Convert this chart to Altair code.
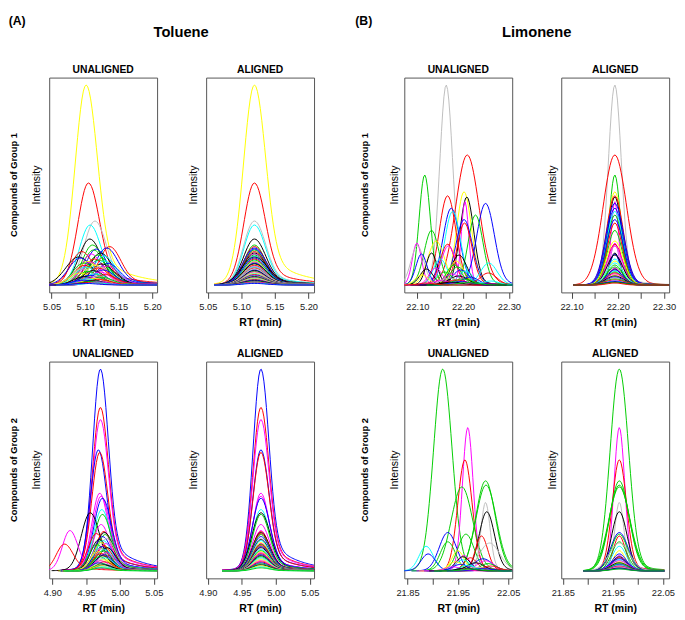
import json
import numpy as np
import pandas as pd
import altair as alt

alt.data_transformers.disable_max_rows()

# R default palette codes
PALETTE = {"k": "#000000", "r": "#FF0000", "g": "#00CD00", "b": "#0000FF",
           "c": "#00FFFF", "m": "#FF00FF", "y": "#FFFF00", "e": "#BEBEBE"}

# ---------------- Toluene, compounds of group 1 (peak apex height, RT, width, colour)
tol1_height = [100, 51, 32, 30, 23, 20, 19.2, 18.5, 18, 17.5, 16.7, 16, 15.5, 15, 14.5, 14, 13.5, 13,
               12.5, 12, 11.8, 11.5, 11, 10.8, 10.5, 10, 9.8, 9.5, 9.2, 9, 8.5, 8, 7.5, 7.2, 6.8, 6.5,
               6, 5.6, 5.2, 4.8, 4.5, 4.2, 3.9, 3.6, 3.3, 3.0, 2.7, 2.4, 2.1, 1.8, 1.5, 1.2, 1.0, 0.8]
tol1_rt = [5.1015, 5.1050, 5.1146, 5.1073, 5.1070, 5.1110, 5.1365, 5.1320, 5.1165, 5.1125, 5.0950,
           5.1230, 5.1090, 5.1190, 5.1280, 5.0903, 5.0927, 5.1140, 5.1200, 5.1290, 5.1040, 5.1080,
           5.0980, 5.1340, 5.1250, 5.1150, 5.0990, 5.1330, 5.1210, 5.1010, 5.1190, 5.0960, 5.1270,
           5.1120, 5.1040, 5.1220, 5.0930, 5.1160, 5.1300, 5.1060, 5.1180, 5.0990, 5.1240, 5.1100,
           5.1140, 5.1030, 5.1210, 5.0970, 5.1130, 5.1080, 5.1200, 5.1050, 5.1170, 5.1000]
tol1_sigma = [.0160, .0155, .0160, .0155, .0160, .0150, .0160, .0165, .0150, .0155, .0160, .0160,
              .0150, .0155, .0160, .0190, .0170, .0155, .0160, .0160, .0155, .0150, .0160, .0165,
              .0170, .0160, .0160, .0160, .0160, .0160, .0160, .0170, .0160, .0160, .0160, .0160,
              .0160, .0160, .0160, .0160, .0160, .0160, .0160, .0160, .0160, .0160, .0160, .0160,
              .0160, .0160, .0160, .0160, .0160, .0160]
tol1_color = ["y", "r", "e", "c", "k", "g", "r", "b", "b", "g", "r", "k", "m", "g", "c", "k", "b", "r",
              "g", "c", "y", "m", "g", "b", "k", "y", "r", "m", "e", "c", "r", "e", "b", "k", "g", "m",
              "y", "c", "r", "b", "e", "k", "g", "m", "y", "c", "r", "b", "k", "g", "m", "r", "c", "b"]
tol1_rt_aligned = 5.1194

# ---------------- Toluene, compounds of group 2
tol2_height = [100, 81, 75, 60, 58.7, 38.5, 37, 36, 30.4, 28.8, 28, 23, 20, 19.5, 19, 18.5, 18, 17, 16,
               15.5, 15, 14, 13.5, 13.3, 13, 12.5, 12, 11.5, 11, 10.5, 10, 9.5, 9, 8.5, 8, 7.5, 7,
               6.5, 6, 5.5, 5, 4.5, 4, 3.5, 3, 2.5, 2, 1.5]
tol2_rt = [4.971, 4.971, 4.971, 4.968, 4.970, 4.970, 4.972, 4.974, 4.973, 4.956, 4.974, 4.972, 4.926,
           4.976, 4.977, 4.965, 4.978, 4.974, 4.980, 4.969, 4.975, 4.972, 4.979, 4.918, 4.966, 4.976,
           4.973, 4.981, 4.970, 4.977, 4.975, 4.968, 4.979, 4.972, 4.976, 4.974, 4.970, 4.978, 4.973,
           4.975, 4.971, 4.977, 4.969, 4.974, 4.976, 4.972, 4.975, 4.973]
tol2_sigma = [.0113, .0115, .0115, .0115, .0115, .0115, .0120, .0125, .0120, .0130, .0120, .0120,
              .0110, .0120, .0125, .0120, .0120, .0125, .0120, .0120, .0120, .0120, .0120, .0120,
              .0120, .0120, .0120, .0120, .0120, .0120, .0120, .0120, .0120, .0120, .0120, .0120,
              .0120, .0120, .0120, .0120, .0120, .0120, .0120, .0120, .0120, .0120, .0120, .0120]
tol2_color = ["b", "r", "m", "b", "r", "m", "m", "b", "c", "k", "g", "m", "m", "r", "k", "r", "g", "b",
              "e", "k", "c", "y", "m", "r", "g", "r", "b", "k", "e", "c", "g", "y", "m", "r", "b", "k",
              "g", "c", "e", "y", "m", "r", "b", "g", "k", "y", "c", "g"]
tol2_rt_aligned = 4.978

# ---------------- Limonene, compounds of group 1
lim1_height = [100, 65, 55, 46.6, 44, 44.6, 41.7, 40.8, 38.4, 36.8, 35, 32.7, 31, 27.3, 22, 21, 20.4,
               19.6, 19.6, 16, 15.5, 15, 13, 12, 11, 10, 9, 8.5, 8, 7.5, 7, 6.5, 6, 5.5, 5, 4.5, 4,
               3.5, 3, 2.5, 2.2, 2.0, 1.7, 1.4, 1.2, 1.0]
lim1_rt = [22.163, 22.209, 22.116, 22.202, 22.208, 22.166, 22.204, 22.249, 22.174, 22.177, 22.227,
           22.202, 22.203, 22.131, 22.141, 22.099, 22.166, 22.100, 22.168, 22.131, 22.109, 22.191,
           22.150, 22.185, 22.256, 22.180, 22.188, 22.140, 22.120, 22.195, 22.205, 22.160, 22.255,
           22.175, 22.110, 22.190, 22.215, 22.170, 22.200, 22.185, 22.150, 22.260, 22.195, 22.175,
           22.210, 22.120]
lim1_sigma = [.014, .025, .012, .016, .015, .018, .008, .019, .018, .017, .016, .018, .016, .016,
              .018, .010, .016, .014, .016, .012, .012, .017, .015, .016, .018, .016, .017, .014,
              .014, .018, .016, .016, .018, .018, .014, .020, .018, .018, .022, .022, .018, .018,
              .022, .022, .022, .016]
lim1_color = ["e", "r", "g", "y", "k", "r", "m", "b", "b", "c", "g", "b", "r", "g", "y", "m", "r", "e",
              "m", "k", "b", "k", "c", "y", "c", "g", "g", "m", "k", "b", "c", "g", "r", "m", "y", "k",
              "b", "e", "g", "r", "m", "c", "b", "k", "g", "r"]
lim1_rt_aligned = 22.1936

# ---------------- Limonene, compounds of group 2
lim2_height = [100, 71, 55, 44.6, 42.5, 41.6, 33.9, 29.3, 19, 18.2, 17.3, 14.4, 13.8, 12.2, 10, 8.4,
               7.6, 7, 6.5, 6, 5.5, 5, 4.5, 4, 3.6, 3.2, 2.8, 2.4, 2.0, 1.7, 1.4, 1.1, 0.9]
lim2_rt = [21.920, 21.9697, 21.964, 22.005, 22.006, 21.958, 22.005, 22.0075, 21.930, 21.966, 21.997,
           21.930, 22.013, 21.887, 21.950, 21.891, 21.962, 21.960, 21.975, 22.000, 21.960, 22.005,
           21.945, 21.985, 22.010, 21.955, 21.970, 22.015, 21.940, 21.990, 21.965, 22.000, 21.975]
lim2_sigma = [.018, .0105, .014, .019, .020, .021, .009, .015, .017, .016, .012, .015, .020, .014,
              .012, .014, .012, .014, .013, .018, .014, .017, .014, .017, .016, .015, .015, .016,
              .015, .016, .016, .018, .016]
lim2_color = ["g", "m", "r", "g", "g", "g", "e", "k", "b", "g", "r", "g", "e", "c", "y", "b", "m", "k",
              "r", "b", "c", "m", "y", "k", "g", "b", "c", "r", "m", "e", "k", "b", "g"]
lim2_rt_aligned = 21.963

# integration window around each apex and peak tailing of each group (left a, tau, right a, tau)
WINDOWS = {"tol1": (0.060, 0.110), "tol2": (0.057, 0.090), "lim1": (0.090, 0.120), "lim2": (0.072, 0.090)}
TAILS = {"tol1": (0.04, 0.03, 0.20, 0.05), "tol2": (0.03, 0.03, 0.20, 0.04),
         "lim1": (0.02, 0.03, 0.06, 0.04), "lim2": (0.02, 0.03, 0.06, 0.04)}


def curves(key, heights, rts, sigmas, colors, aligned_rt=None, n=80):
    wl, wr = WINDOWS[key]
    aL, tL, aR, tR = TAILS[key]
    frames = []
    for i, (h, c, s, col) in enumerate(zip(heights, rts, sigmas, colors)):
        ctr = c if aligned_rt is None else aligned_rt
        x = np.linspace(ctr - wl, ctr + wr, n)
        d = x - ctr
        g = np.exp(-d ** 2 / (2 * s ** 2))
        tail = np.where(d > 0, aR * np.exp(-d / tR), aL * np.exp(d / tL))
        y = h * (g + (1 - g) * tail)
        frames.append(pd.DataFrame({"rt": np.round(x, 5), "inten": np.round(y, 3),
                                    "sid": i, "col": PALETTE[col]}))
    return pd.concat(frames, ignore_index=True)


FONT = "Liberation Sans"
W = 110
H1, H2 = 219, 221
YDOM = [-3.7, 103.7]


def txt(s, x, y, size, bold=False, angle=0, align="center", baseline="middle"):
    return alt.Chart(pd.DataFrame({"t": [s]})).mark_text(
        font=FONT, fontSize=size, fontWeight="bold" if bold else "normal", angle=angle,
        align=align, baseline=baseline, color="black"
    ).encode(text="t:N", x=alt.value(x), y=alt.value(y))


def panel(df, dom, ticks, shown, h, title, ylab_x, extra):
    if shown is None:
        axis = alt.Axis(values=ticks, format=".2f", title="RT (min)")
    else:
        axis = alt.Axis(values=ticks, format=".2f", title="RT (min)",
                        labelExpr="indexof(%s, datum.label) >= 0 ? datum.label : ''" % json.dumps(shown))
    lines = alt.Chart(df).mark_line(clip=True, strokeWidth=1).encode(
        x=alt.X("rt:Q", scale=alt.Scale(domain=dom, nice=False, zero=False), axis=axis),
        y=alt.Y("inten:Q", scale=alt.Scale(domain=YDOM, nice=False, zero=False), axis=None),
        color=alt.Color("col:N", scale=None, legend=None),
        detail="sid:N",
    )
    layers = [lines,
              txt(title, W / 2, -7.3, 10.5, bold=True),
              txt("Intensity", ylab_x, h / 2, 10.7, angle=270)] + extra
    return alt.layer(*layers).properties(width=W, height=h)


def spacer(w, h):
    return alt.Chart(pd.DataFrame({"s": [0]})).mark_point(opacity=0, size=1).encode(
        x=alt.value(0), y=alt.value(0)
    ).properties(width=w, height=h, view=alt.ViewBackground(stroke="transparent", strokeWidth=0))


T1 = [5.05, 5.10, 5.15, 5.20]
T2 = [4.90, 4.95, 5.00, 5.05]
L1 = [22.10, 22.15, 22.20, 22.25, 22.30]
L2 = [21.85, 21.90, 21.95, 22.00, 22.05]

au1 = panel(curves("tol1", tol1_height, tol1_rt, tol1_sigma, tol1_color),
            [5.0465, 5.2073], T1, None, H1, "UNALIGNED", -12.5,
            [txt("Compounds of Group 1", -36.2, H1 / 2, 9.5, bold=True, angle=270),
             txt("(A)", -41.3, -64, 12.5, bold=True, align="left", baseline="top"),
             txt("Toluene", 134.5, -46.1, 15, bold=True)])
aa1 = panel(curves("tol1", tol1_height, tol1_rt, tol1_sigma, tol1_color, tol1_rt_aligned),
            [5.0475, 5.2083], T1, None, H1, "ALIGNED", -12.0, [])
bu1 = panel(curves("lim1", lim1_height, lim1_rt, lim1_sigma, lim1_color),
            [22.0715, 22.3072], L1, ["22.10", "22.20", "22.30"], H1, "UNALIGNED", -9.7,
            [txt("Compounds of Group 1", -40, H1 / 2, 9.5, bold=True, angle=270),
             txt("(B)", -50, -64, 12.5, bold=True, align="left", baseline="top"),
             txt("Limonene", 135, -46.1, 15, bold=True)])
ba1 = panel(curves("lim1", lim1_height, lim1_rt, lim1_sigma, lim1_color, lim1_rt_aligned),
            [22.0777, 22.3112], L1, ["22.10", "22.20", "22.30"], H1, "ALIGNED", -8.5, [])

au2 = panel(curves("tol2", tol2_height, tol2_rt, tol2_sigma, tol2_color),
            [4.8954, 5.0548], T2, None, H2, "UNALIGNED", -12.5,
            [txt("Compounds of Group 2", -36.2, H2 / 2, 9.5, bold=True, angle=270)])
aa2 = panel(curves("tol2", tol2_height, tol2_rt, tol2_sigma, tol2_color, tol2_rt_aligned),
            [4.8975, 5.0562], T2, None, H2, "ALIGNED", -12.0, [])
bu2 = panel(curves("lim2", lim2_height, lim2_rt, lim2_sigma, lim2_color),
            [21.8436, 22.0580], L2, ["21.85", "21.95", "22.05"], H2, "UNALIGNED", -9.7,
            [txt("Compounds of Group 2", -40, H2 / 2, 9.5, bold=True, angle=270)])
ba2 = panel(curves("lim2", lim2_height, lim2_rt, lim2_sigma, lim2_color, lim2_rt_aligned),
            [21.8469, 22.0626], L2, ["21.85", "21.95", "22.05"], H2, "ALIGNED", -8.5, [])

cells = [au1, spacer(50, H1), aa1, spacer(91.4, H1), bu1, spacer(50, H1), ba1,
         au2, spacer(50, H2), aa2, spacer(91.4, H2), bu2, spacer(50, H2), ba2]

chart = alt.concat(*cells, columns=7, spacing=alt.RowColnumber(row=70.5, column=0),
                   bounds="flush").properties(padding=0)

chart = chart.configure(font=FONT, background="white").configure_view(
    stroke="#555555", strokeWidth=1
).configure_axis(
    domain=False, grid=False, tickColor="#444444", tickSize=6, tickWidth=1,
    labelFont=FONT, labelFontSize=9.5, labelColor="#222222", labelPadding=3.4,
    labelFlush=False, labelOverlap=False, labelBound=False,
    titleFont=FONT, titleFontSize=10.7, titleFontWeight="bold", titleColor="black",
    titleY=25.4, titleBaseline="top"
)

chart.save("out.html", embed_options={"renderer": "svg", "actions": False})
